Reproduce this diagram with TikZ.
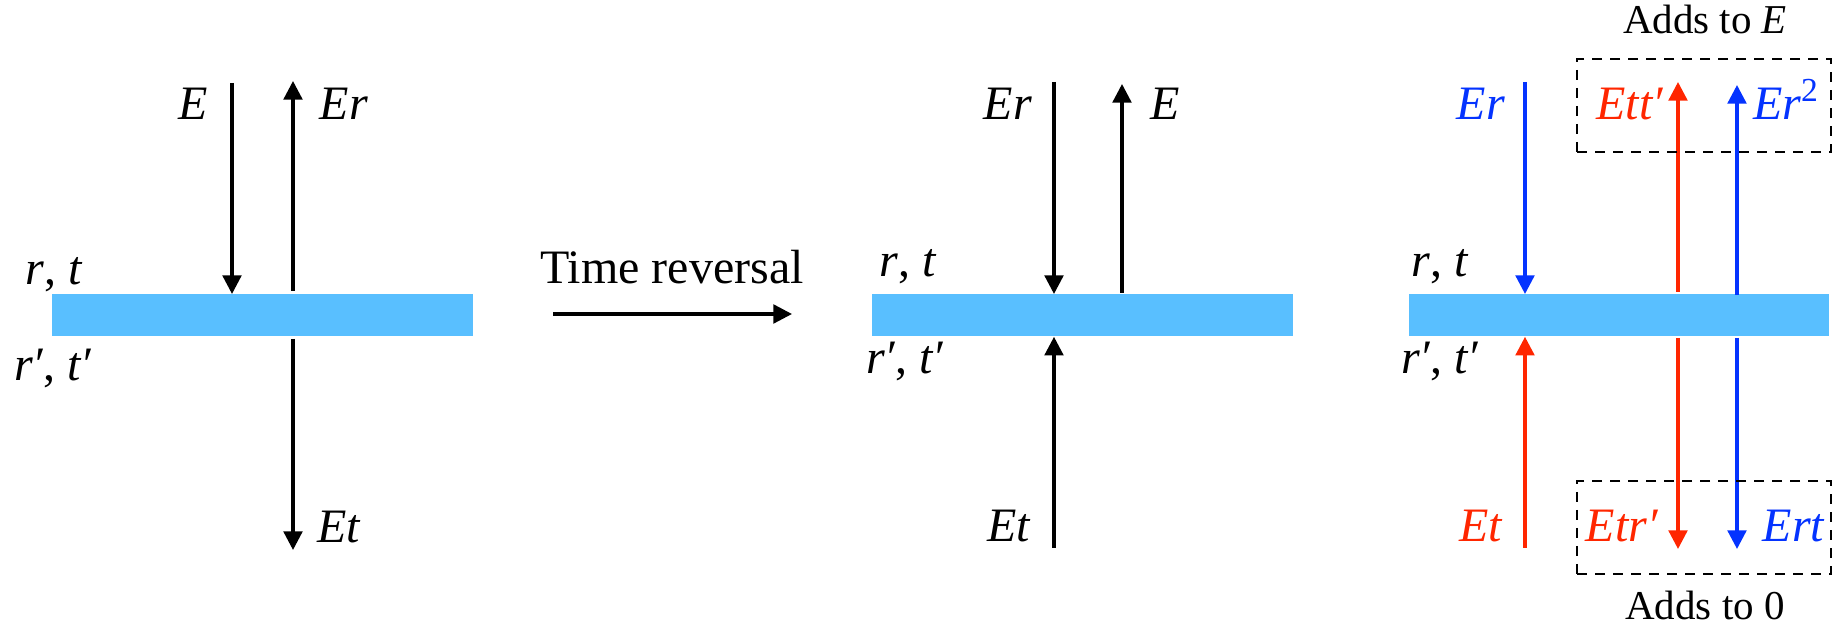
\documentclass[tikz,border=0pt]{standalone}
\usepackage{fontspec}
\setmainfont{Liberation Serif}[ItalicFont={Liberation Serif Italic}]
\usetikzlibrary{arrows.meta}
\definecolor{barblue}{HTML}{59BFFF}
\definecolor{rred}{HTML}{FF2600}
\definecolor{bblue}{HTML}{0433FF}
\newcommand{\lbl}[1]{\textit{#1}}
\begin{document}
\begin{tikzpicture}[x=0.5pt,y=-0.5pt,
  arr/.style={line width=1.65pt,-{Triangle[length=9.3pt,width=9.3pt]}},
  lab/.style={font=\fontsize{24}{28}\selectfont, anchor=base, inner sep=0pt},
  note/.style={font=\fontsize{20.5}{24}\selectfont, anchor=base, inner sep=0pt},
  slab/.style={fill=barblue, draw=none, minimum width=210.5pt, minimum height=21pt, inner sep=0pt, anchor=north west},
  dbox/.style={draw, line width=1pt, dash pattern=on 5pt off 4pt, minimum width=127pt, minimum height=46.5pt, inner sep=0pt, anchor=north west}]
\useasboundingbox (0,0) rectangle (1832,624);

% ---------- left panel ----------
\node[slab] (bar1) at (52,294) {};
\coordinate (a1s) at (232,83);
\coordinate (a2s) at (293,291);
\coordinate (a2e) at (293,81);
\coordinate (a3s) at (293,339);
\coordinate (a3e) at (293,550);
\draw[arr] (a1s) -- (a1s |- bar1.north);
\draw[arr] (a2s) -- (a2e);
\draw[arr] (a3s) -- (a3e);
\node[lab] (lE) at (193,120) {\lbl{E}};
\node[lab] (lEr) at (344,120) {\lbl{Er}};
\node[lab] (lEt) at (339,543) {\lbl{Et}};
\node[lab] (lrt) at (54,285) {\lbl{r}, \lbl{t}};
\node[lab] (lrtp) at (53,381) {\lbl{r′}, \lbl{t′}};

% ---------- time reversal ----------
\node[lab] (tr) at (672,284) {Time reversal};
\coordinate (trs) at (553,314);
\coordinate (tre) at (792,314);
\draw[arr] (trs) -- (tre);

% ---------- middle panel ----------
\node[slab] (bar2) at (872,294) {};
\coordinate (b1s) at (1054,82);
\coordinate (b2s) at (1122,293);
\coordinate (b2e) at (1122,84);
\coordinate (b3s) at (1054,548);
\draw[arr] (b1s) -- (b1s |- bar2.north);
\draw[arr] (b2s) -- (b2e);
\draw[arr] (b3s) -- (b3s |- bar2.south);
\node[lab] (mEr) at (1008,120) {\lbl{Er}};
\node[lab] (mE) at (1165,120) {\lbl{E}};
\node[lab] (mEt) at (1009,542) {\lbl{Et}};
\node[lab] (mrt) at (908,277) {\lbl{r}, \lbl{t}};
\node[lab] (mrtp) at (905,374) {\lbl{r′}, \lbl{t′}};

% ---------- right panel ----------
\node[slab, minimum width=210pt] (bar3) at (1409,294) {};
\coordinate (c1s) at (1525,82);
\coordinate (c2s) at (1525,548);
\coordinate (c3s) at (1678,292);
\coordinate (c3e) at (1678,82);
\coordinate (c4s) at (1737,295);
\coordinate (c4e) at (1737,85);
\coordinate (c5s) at (1678,338);
\coordinate (c5e) at (1678,549);
\coordinate (c6s) at (1737,338);
\coordinate (c6e) at (1737,549);
\draw[arr, bblue] (c1s) -- (c1s |- bar3.north);
\draw[arr, rred] (c2s) -- (c2s |- bar3.south);
\draw[arr, rred] (c3s) -- (c3e);
\draw[arr, bblue] (c4s) -- (c4e);
\draw[arr, rred] (c5s) -- (c5e);
\draw[arr, bblue] (c6s) -- (c6e);
\node[lab, bblue] (rEr) at (1481,120) {\lbl{Er}};
\node[lab, rred] (rEtt) at (1630,120) {\lbl{Ett′}};
\node[lab, bblue] (rEr2) at (1786,120) {\lbl{Er}\textsuperscript{2}};
\node[lab, rred] (rEt) at (1481,542) {\lbl{Et}};
\node[lab, rred] (rEtr) at (1622,542) {\lbl{Etr′}};
\node[lab, bblue] (rErt) at (1794,542) {\lbl{Ert}};
\node[lab] (rrt) at (1440,277) {\lbl{r}, \lbl{t}};
\node[lab] (rrtp) at (1440,374) {\lbl{r′}, \lbl{t′}};

\node[dbox] (topbox) at (1576,58) {};
\node[dbox] (botbox) at (1576,480) {};
\node[note] (addE) at (1705,34) {Adds to \textit{E}};
\node[note] (add0) at (1705,620) {Adds to 0};
\end{tikzpicture}
\end{document}
